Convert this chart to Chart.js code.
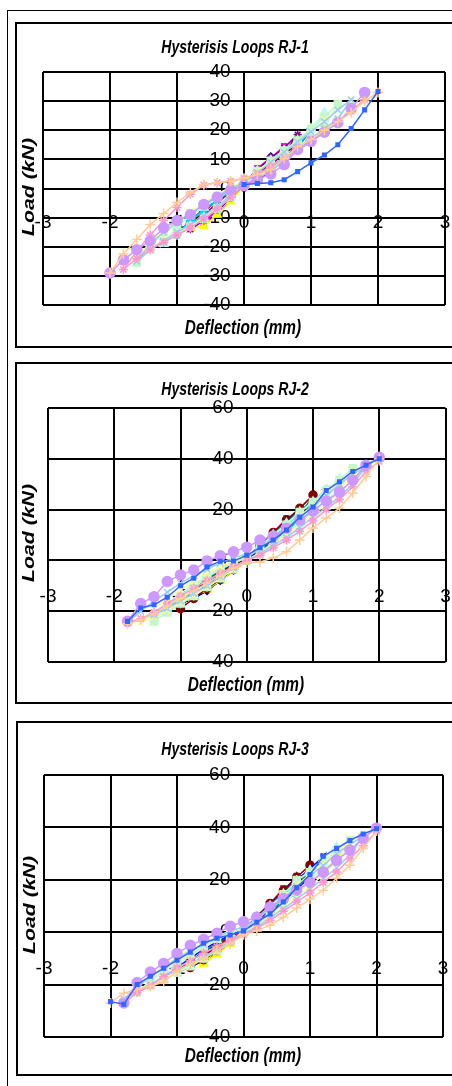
<!DOCTYPE html>
<html><head><meta charset="utf-8">
<script src="https://cdn.jsdelivr.net/npm/chart.js@4.4.1/dist/chart.umd.min.js"></script>
<style>
html,body{margin:0;padding:0;background:#fff;overflow:hidden;width:452px;height:1086px}
.box{position:absolute;box-sizing:border-box;border:2px solid #000}
canvas{position:absolute}
</style></head><body>
<div class="box" style="left:7px;top:10px;width:470px;height:1100px;border-width:1px"></div>
<div class="box" style="left:15px;top:22px;width:460px;height:326px"></div>
<div class="box" style="left:15px;top:362px;width:460px;height:342px"></div>
<div class="box" style="left:16px;top:721px;width:460px;height:355px"></div>
<canvas id="c1" width="435" height="321" style="left:17px;top:24px"></canvas>
<canvas id="c2" width="435" height="338" style="left:17px;top:364px"></canvas>
<canvas id="c3" width="434" height="351" style="left:18px;top:723px"></canvas>
<script>
// ---------- text ----------
const TITLES = ['Hysterisis Loops RJ-1', 'Hysterisis Loops RJ-2', 'Hysterisis Loops RJ-3'];
const X_TITLE = 'Deflection (mm)';
const Y_TITLE = 'Load (kN)';
// ---------- ticks ----------
const X_TICKS = [-3, -2, -1, 0, 1, 2, 3];
const Y_TICKS_RJ1 = [-40, -30, -20, -10, 0, 10, 20, 30, 40];
const Y_TICKS_RJ2 = [-40, -20, 0, 20, 40, 60];
const Y_TICKS_RJ3 = [-40, -20, 0, 20, 40, 60];

// ---------- RJ-1 series [deflection, load] ----------
const RJ1_1 = [[0,0],[0.2,5],[0.4,11],[0.2,6],[0,2],[-0.2,-3],[-0.4,-8],[-0.2,-3],[0,1]];
const RJ1_2 = [[0,1],[0.2,7],[0.4,10.5],[0.6,14.5],[0.4,9],[0.2,5],[0,2],[-0.2,-4],[-0.4,-9],[-0.6,-12.5],[-0.4,-7],[-0.2,-2],[0,1]];
const RJ1_3 = [[0,1],[0.2,6],[0.4,10],[0.6,13.5],[0.4,8],[0.2,4],[0,1],[-0.2,-4.5],[-0.4,-9],[-0.6,-13],[-0.8,-13.5],[-0.6,-9],[-0.4,-5],[-0.2,-1],[0,1]];
const RJ1_4 = [[0,1],[0.2,6],[0.4,10],[0.6,13],[0.8,17],[0.6,11],[0.4,7],[0.2,4],[0,2],[-0.2,-3],[-0.4,-7],[-0.6,-10],[-0.8,-13],[-0.6,-8],[-0.4,-4],[-0.2,-1],[0,2]];
const RJ1_5 = [[0,2],[0.2,6.5],[0.4,10.5],[0.6,14],[0.8,18.5],[0.6,12],[0.4,8],[0.2,4.5],[0,2],[-0.2,-3],[-0.4,-7],[-0.6,-11],[-0.8,-14],[-0.6,-9],[-0.4,-5],[-0.2,-1],[0,2]];
const RJ1_6 = [[0,1],[0.2,5],[0.4,9],[0.6,12],[0.8,15],[0.6,10],[0.4,6],[0.2,3],[0,1],[-0.2,-3],[-0.4,-7],[-0.6,-10],[-0.8,-12],[-0.6,-8],[-0.4,-4],[-0.2,-1],[0,1]];
const RJ1_7 = [[0,2],[0.2,6],[0.4,9.5],[0.6,13],[0.8,16.5],[1.0,20],[0.8,14],[0.6,10],[0.4,7],[0.2,4],[0,2],[-0.2,-3],[-0.4,-7],[-0.6,-10],[-0.8,-13],[-1.0,-15.5],[-0.8,-11],[-0.6,-7],[-0.4,-4],[-0.2,-1],[0,2]];
const RJ1_8 = [[0,2],[0.2,6],[0.4,9],[0.6,12.5],[0.8,16],[1.0,20.5],[0.8,14.5],[0.6,10.5],[0.4,7],[0.2,4],[0,2],[-0.2,-3],[-0.4,-6.5],[-0.6,-10],[-0.8,-13],[-1.0,-16],[-0.8,-11],[-0.6,-7.5],[-0.4,-4],[-0.2,-1],[0,2]];
const RJ1_9 = [[0,2],[0.2,6],[0.4,9.5],[0.6,13],[0.8,16.5],[1.0,20.5],[1.2,26],[1.0,18],[0.8,14],[0.6,10],[0.4,6.5],[0.2,4],[0,2],[-0.2,-3],[-0.4,-7],[-0.6,-10],[-0.8,-13],[-1.0,-15],[-1.2,-19],[-1.0,-13],[-0.8,-9.5],[-0.6,-6.5],[-0.4,-3.5],[-0.2,-0.5],[0,2]];
const RJ1_10 = [[0,2],[0.2,6],[0.4,9.5],[0.6,13],[0.8,16.5],[1.0,20.5],[1.2,24.5],[1.4,29],[1.2,21],[1.0,17],[0.8,13.5],[0.6,10],[0.4,6.5],[0.2,4],[0,2],[-0.2,-3],[-0.4,-7],[-0.6,-10.5],[-0.8,-13],[-1.0,-15.5],[-1.2,-18],[-1.4,-21],[-1.6,-25.5],[-1.4,-19.5],[-1.2,-15.5],[-1.0,-12],[-0.8,-8.5],[-0.6,-5.5],[-0.4,-2.5],[-0.2,0],[0,2]];
const RJ1_11 = [[0,2],[0.2,6],[0.4,9],[0.6,12.5],[0.8,16],[1.0,19.5],[1.2,23.5],[1.4,27],[1.6,30],[1.4,23.5],[1.2,20],[1.0,16.5],[0.8,13],[0.6,9.5],[0.4,6],[0.2,4],[0,2],[-0.2,-2.5],[-0.4,-6.5],[-0.6,-10],[-0.8,-12.5],[-1.0,-15],[-1.2,-17.5],[-1.4,-20.5],[-1.6,-24],[-1.4,-18.5],[-1.2,-14.5],[-1.0,-11],[-0.8,-8],[-0.6,-5],[-0.4,-2],[-0.2,0.5],[0,2.5]];
const RJ1_12 = [[0,2],[0.2,5.5],[0.4,9],[0.6,12.5],[0.8,16],[1.0,19.5],[1.2,23],[1.4,27],[1.6,30.5],[1.4,24],[1.2,20.5],[1.0,17],[0.8,13],[0.6,9.5],[0.4,6],[0.2,3.5],[0,1.5],[-0.2,-2.5],[-0.4,-6],[-0.6,-9.5],[-0.8,-12.5],[-1.0,-15],[-1.2,-18],[-1.4,-21],[-1.6,-25],[-1.4,-19],[-1.2,-15],[-1.0,-11.5],[-0.8,-8.5],[-0.6,-5.5],[-0.4,-2.5],[-0.2,0],[0,2]];
const RJ1_13 = [[0,1],[-0.2,-3],[-0.4,-7],[-0.6,-10.5],[-0.8,-13.5],[-1.0,-16],[-1.2,-18.5],[-1.4,-21],[-1.6,-24],[-1.8,-27.8],[-1.6,-21.5],[-1.4,-16],[-1.2,-11],[-1.0,-6.5],[-0.8,-2],[-0.6,1.2],[-0.4,2],[-0.2,2.5],[0,3.5],[0.2,5],[0.4,7.5],[0.6,10.5],[0.8,13],[1.0,16],[1.2,19.5],[1.4,23],[1.6,26.5],[1.8,30.5]];
const RJ1_14 = [[-2,-29],[-1.8,-24.5],[-1.6,-21],[-1.4,-18],[-1.2,-13.5],[-1.0,-11],[-0.8,-9],[-0.6,-5.5],[-0.4,-3],[-0.2,-0.5],[0,1],[0.2,3],[0.4,5],[0.6,8.2],[0.8,13.4],[1.0,16.2],[1.2,19.3],[1.4,22.6],[1.6,27.5],[1.8,33]];
const RJ1_15 = [[2,33],[1.8,30],[1.6,26],[1.4,23],[1.2,20],[1.0,16.8],[0.8,14.4],[0.6,10.3],[0.4,6.5],[0.2,4.8],[0,3.5],[-0.2,2.5],[-0.4,2],[-0.6,1.4],[-0.8,-1.4],[-1.0,-4.8],[-1.2,-8.6],[-1.4,-12.4],[-1.6,-17.5],[-1.8,-22.5],[-2,-29]];
const RJ1_16 = [[0,1.4],[0.2,1.7],[0.4,2],[0.6,3],[0.8,5.8],[1.0,8.8],[1.2,11.5],[1.4,15],[1.6,20.6],[1.8,27],[2,33.3]];

// ---------- RJ-2 series ----------
const RJ2_1 = [[0,0],[0.2,5],[0.4,10],[0.6,15],[0.8,20],[0.6,13],[0.4,8],[0.2,3],[0,0],[-0.2,-4],[-0.4,-8],[-0.6,-12],[-0.8,-15],[-0.6,-10],[-0.4,-6],[-0.2,-2],[0,0]];
const RJ2_2 = [[0,0],[0.2,6],[0.4,11],[0.6,16.5],[0.4,10],[0.2,4],[0,0],[-0.2,-4],[-0.4,-8],[-0.6,-11],[-0.4,-6],[-0.2,-2],[0,0]];
const RJ2_3 = [[0,0],[0.2,5],[0.4,10],[0.6,15],[0.4,9],[0.2,4],[0,0],[-0.2,-4],[-0.4,-8],[-0.6,-11.5],[-0.4,-6],[-0.2,-2],[0,0]];
const RJ2_4 = [[0,1],[0.2,5],[0.4,10],[0.6,14.5],[0.8,19.5],[0.6,13],[0.4,8],[0.2,3.5],[0,0],[-0.2,-3.5],[-0.4,-7.5],[-0.6,-11],[-0.8,-14],[-0.6,-9],[-0.4,-5],[-0.2,-1.5],[0,1]];
const RJ2_5 = [[0,1],[0.2,5.5],[0.4,10.5],[0.6,15],[0.8,20.5],[0.6,13.5],[0.4,8.5],[0.2,4],[0,0.5],[-0.2,-3.5],[-0.4,-7],[-0.6,-10.5],[-0.8,-14.5],[-0.6,-9.5],[-0.4,-5.5],[-0.2,-2],[0,1]];
const RJ2_6 = [[0,1],[0.2,6],[0.4,11],[0.6,16],[0.8,20.5],[1.0,25.7],[0.8,17],[0.6,12],[0.4,7.5],[0.2,3.5],[0,0],[-0.2,-3.5],[-0.4,-7.5],[-0.6,-11],[-0.8,-15],[-1.0,-19],[-0.8,-12],[-0.6,-8],[-0.4,-4.5],[-0.2,-1.5],[0,1]];
const RJ2_7 = [[0,1],[0.2,5.5],[0.4,10.5],[0.6,15],[0.8,19.5],[1.0,23.5],[0.8,16.5],[0.6,11.5],[0.4,7],[0.2,3.5],[0,0],[-0.2,-3.5],[-0.4,-7],[-0.6,-10.5],[-0.8,-14],[-1.0,-17.5],[-0.8,-11.5],[-0.6,-7.5],[-0.4,-4],[-0.2,-1],[0,1]];
const RJ2_8 = [[0,1],[0.2,5.5],[0.4,10],[0.6,14.5],[0.8,19],[1.0,23],[1.2,28],[1.0,20],[0.8,15.5],[0.6,11],[0.4,7],[0.2,3],[0,0],[-0.2,-3.5],[-0.4,-7],[-0.6,-10.5],[-0.8,-14],[-1.0,-17],[-1.2,-20],[-1.0,-14],[-0.8,-10],[-0.6,-6.5],[-0.4,-3.5],[-0.2,-1],[0,1]];
const RJ2_9 = [[0,1],[0.2,5.5],[0.4,10],[0.6,14.5],[0.8,19],[1.0,23],[1.2,27.5],[1.4,32],[1.2,24],[1.0,19.5],[0.8,15],[0.6,11],[0.4,7],[0.2,3],[0,0],[-0.2,-3.5],[-0.4,-7],[-0.6,-10.5],[-0.8,-14],[-1.0,-17],[-1.2,-20],[-1.4,-22.5],[-1.2,-17],[-1.0,-13],[-0.8,-9.5],[-0.6,-6],[-0.4,-3],[-0.2,-0.5],[0,1.5]];
const RJ2_10 = [[0,1],[0.2,5.5],[0.4,9.5],[0.6,14],[0.8,19],[1.0,23],[1.2,27.7],[1.4,31.6],[1.6,36.3],[1.4,28],[1.2,23.5],[1.0,19],[0.8,15],[0.6,11],[0.4,7],[0.2,3],[0,0],[-0.2,-3.5],[-0.4,-7],[-0.6,-10.5],[-0.8,-14],[-1.0,-17],[-1.2,-20.5],[-1.4,-24],[-1.2,-18],[-1.0,-14],[-0.8,-10],[-0.6,-6.5],[-0.4,-3.5],[-0.2,-1],[0,1]];
const RJ2_11 = [[0,1],[0.2,5],[0.4,9],[0.6,13],[0.8,17.5],[1.0,21.5],[1.2,26],[1.4,30.5],[1.6,35],[1.4,27],[1.2,22],[1.0,18],[0.8,14],[0.6,10],[0.4,6],[0.2,2.5],[0,0],[-0.2,-3.5],[-0.4,-7],[-0.6,-10.5],[-0.8,-13.5],[-1.0,-16.5],[-1.2,-19.5],[-1.4,-22],[-1.6,-24.5],[-1.4,-19],[-1.2,-15],[-1.0,-11.5],[-0.8,-8],[-0.6,-5],[-0.4,-2.5],[-0.2,0],[0,1.5]];
const RJ2_12 = [[0,1],[0.2,5],[0.4,9],[0.6,13],[0.8,17],[1.0,21],[1.2,25.5],[1.4,30],[1.6,34],[1.8,37],[1.6,30],[1.4,25],[1.2,21],[1.0,17],[0.8,13],[0.6,9],[0.4,6],[0.2,2.5],[0,0],[-0.2,-3],[-0.4,-6.5],[-0.6,-10],[-0.8,-13],[-1.0,-16],[-1.2,-19],[-1.4,-21.5],[-1.6,-23],[-1.8,-24.5],[-1.6,-20],[-1.4,-16],[-1.2,-12.5],[-1.0,-9],[-0.8,-6],[-0.6,-3.5],[-0.4,-1],[-0.2,1],[0,2.5]];
const RJ2_13 = [[2,39],[1.8,35],[1.6,29],[1.4,24],[1.2,20],[1.0,15.5],[0.8,11.5],[0.6,8],[0.4,5],[0.2,2],[0,0],[-0.2,-2.5],[-0.4,-5],[-0.6,-8],[-0.8,-11],[-1.0,-14],[-1.2,-17],[-1.4,-20.5],[-1.6,-23],[-1.8,-24.5]];
const RJ2_14 = [[-1.8,-24],[-1.6,-17],[-1.4,-14.3],[-1.2,-8.3],[-1.0,-5.7],[-0.8,-3.8],[-0.6,-0.2],[-0.4,1.8],[-0.2,3.4],[0,5.2],[0.2,8],[0.4,9.6],[0.6,12.7],[0.8,15.9],[1.0,19.5],[1.2,23.4],[1.4,26.9],[1.6,31.6],[1.8,37.5],[2,40.6]];
const RJ2_15 = [[2,40],[1.8,33],[1.6,26.5],[1.4,20.6],[1.2,16.7],[1.0,12.8],[0.8,8],[0.6,3.4],[0.4,1],[0.2,-0.6],[0,-1],[-0.2,-3],[-0.4,-6],[-0.6,-9],[-0.8,-12],[-1.0,-15],[-1.2,-18],[-1.4,-21],[-1.6,-23.5],[-1.8,-25]];
const RJ2_16 = [[-1.8,-24],[-1.6,-18.7],[-1.4,-17.5],[-1.2,-14.5],[-1.0,-10],[-0.8,-7],[-0.6,-2.6],[-0.4,-0.3],[-0.2,-0.2],[0,2],[0.2,5],[0.4,8],[0.6,12],[0.8,17],[1.0,21],[1.2,27.5],[1.4,31],[1.6,35],[1.8,37.5],[2,40]];

// ---------- RJ-3 series ----------
const RJ3_1 = [[0,0],[0.2,5],[0.4,10.5],[0.6,16],[0.8,21],[0.6,14],[0.4,8.5],[0.2,3.5],[0,0],[-0.2,-4],[-0.4,-7.5],[-0.6,-11],[-0.8,-13],[-0.6,-9],[-0.4,-5.5],[-0.2,-2],[0,0]];
const RJ3_2 = [[0,0],[0.2,6],[0.4,11],[0.6,16.8],[0.4,10],[0.2,4],[0,0],[-0.2,-4],[-0.4,-8],[-0.6,-11],[-0.4,-6],[-0.2,-2],[0,0]];
const RJ3_3 = [[0,0],[0.2,5],[0.4,10],[0.6,15],[0.4,9],[0.2,4],[0,0],[-0.2,-4.5],[-0.4,-8.5],[-0.6,-12],[-0.4,-6.5],[-0.2,-2.5],[0,0]];
const RJ3_4 = [[0,1],[0.2,5],[0.4,10],[0.6,15],[0.8,20],[0.6,13],[0.4,8],[0.2,3.5],[0,0],[-0.2,-3.5],[-0.4,-7],[-0.6,-10.5],[-0.8,-13],[-0.6,-8.5],[-0.4,-5],[-0.2,-1.5],[0,1]];
const RJ3_5 = [[0,1],[0.2,5.5],[0.4,10.5],[0.6,15.5],[0.8,21.5],[0.6,14],[0.4,9],[0.2,4],[0,0.5],[-0.2,-3.5],[-0.4,-7],[-0.6,-10.5],[-0.8,-13.5],[-0.6,-9],[-0.4,-5.5],[-0.2,-2],[0,1]];
const RJ3_6 = [[0,1],[0.2,6],[0.4,11],[0.6,16],[0.8,21],[1.0,25.6],[0.8,17.5],[0.6,12],[0.4,7.5],[0.2,3.5],[0,0],[-0.2,-3.5],[-0.4,-7],[-0.6,-10.5],[-0.8,-13.5],[-1.0,-15],[-0.8,-11],[-0.6,-7.5],[-0.4,-4.5],[-0.2,-1.5],[0,1]];
const RJ3_7 = [[0,1],[0.2,5.5],[0.4,10.5],[0.6,15],[0.8,20],[1.0,24],[0.8,17],[0.6,12],[0.4,7.5],[0.2,3.5],[0,0],[-0.2,-3.5],[-0.4,-7],[-0.6,-10],[-0.8,-13],[-1.0,-15.5],[-0.8,-11],[-0.6,-7.5],[-0.4,-4],[-0.2,-1],[0,1]];
const RJ3_8 = [[0,1],[0.2,5.5],[0.4,10],[0.6,15],[0.8,20],[1.0,24],[1.2,29],[1.0,21],[0.8,16.5],[0.6,11.5],[0.4,7],[0.2,3],[0,0],[-0.2,-3.5],[-0.4,-7],[-0.6,-10],[-0.8,-13],[-1.0,-15.5],[-1.2,-18],[-1.0,-13.5],[-0.8,-10],[-0.6,-6.5],[-0.4,-3.5],[-0.2,-1],[0,1]];
const RJ3_9 = [[0,1],[0.2,5.5],[0.4,10],[0.6,14.5],[0.8,19.5],[1.0,23.5],[1.2,28],[1.4,32.5],[1.2,24.5],[1.0,20],[0.8,15.5],[0.6,11],[0.4,7],[0.2,3],[0,0],[-0.2,-3.5],[-0.4,-7],[-0.6,-10],[-0.8,-13],[-1.0,-15.5],[-1.2,-18],[-1.4,-20.5],[-1.2,-16],[-1.0,-12.5],[-0.8,-9],[-0.6,-6],[-0.4,-3],[-0.2,-0.5],[0,1.5]];
const RJ3_10 = [[0,1],[0.2,5],[0.4,9.5],[0.6,14.5],[0.8,19.9],[1.0,22.9],[1.2,26.7],[1.4,31.3],[1.6,35.2],[1.4,28],[1.2,23.5],[1.0,19],[0.8,15],[0.6,11],[0.4,7],[0.2,3],[0,0],[-0.2,-3.5],[-0.4,-7],[-0.6,-10],[-0.8,-13],[-1.0,-15.5],[-1.2,-18],[-1.4,-20.5],[-1.6,-23],[-1.4,-18.5],[-1.2,-15],[-1.0,-11.5],[-0.8,-8.5],[-0.6,-5.5],[-0.4,-2.5],[-0.2,0],[0,1.5]];
const RJ3_11 = [[0,1],[0.2,5],[0.4,9],[0.6,13.5],[0.8,18],[1.0,22],[1.2,26],[1.4,30.5],[1.6,34.5],[1.4,27],[1.2,22],[1.0,17.5],[0.8,13.5],[0.6,9.5],[0.4,6],[0.2,2.5],[0,-0.5],[-0.2,-4],[-0.4,-7],[-0.6,-10],[-0.8,-12.5],[-1.0,-15],[-1.2,-17.5],[-1.4,-20.5],[-1.6,-23],[-1.8,-26],[-1.6,-20.5],[-1.4,-16.5],[-1.2,-13],[-1.0,-9.5],[-0.8,-6.5],[-0.6,-4],[-0.4,-1.5],[-0.2,0.5],[0,2]];
const RJ3_12 = [[0,1],[0.2,5],[0.4,9],[0.6,13],[0.8,17.5],[1.0,21.5],[1.2,25.5],[1.4,30],[1.6,33.5],[1.8,36.5],[1.6,29.5],[1.4,24.5],[1.2,20.5],[1.0,16.5],[0.8,12.5],[0.6,9],[0.4,5.5],[0.2,2],[0,-0.5],[-0.2,-4],[-0.4,-6.5],[-0.6,-9.5],[-0.8,-12],[-1.0,-14.5],[-1.2,-17],[-1.4,-20],[-1.6,-22.5],[-1.8,-25.5],[-1.6,-21],[-1.4,-17],[-1.2,-13.5],[-1.0,-10],[-0.8,-7],[-0.6,-4.5],[-0.4,-2],[-0.2,0.5],[0,2]];
const RJ3_13 = [[-1.8,-27],[-1.6,-23],[-1.4,-20.5],[-1.2,-17],[-1.0,-13.5],[-0.8,-11],[-0.6,-8],[-0.4,-5.5],[-0.2,-3],[0,-1],[0.2,1.5],[0.4,4.5],[0.6,8],[0.8,11.5],[1.0,15],[1.2,19],[1.4,23],[1.6,28],[1.8,33],[2,38.5]];
const RJ3_14 = [[-1.8,-27],[-1.6,-19.2],[-1.4,-15.2],[-1.2,-11.9],[-1.0,-8.1],[-0.8,-5],[-0.6,-2.7],[-0.4,-0.4],[-0.2,2.3],[0,4],[0.2,5.7],[0.4,9.6],[0.6,12.9],[0.8,16],[1.0,19.1],[1.2,22.9],[1.4,27.5],[1.6,31.3],[1.8,35.9],[2,39.7]];
const RJ3_15 = [[2,38.6],[1.8,32],[1.6,25.6],[1.4,20.6],[1.2,16],[1.0,12.6],[0.8,9.2],[0.6,5.7],[0.4,2.7],[0.2,0.5],[0,-1],[-0.2,-4.5],[-0.4,-7],[-0.6,-10],[-0.8,-12],[-1.0,-15],[-1.2,-19],[-1.4,-20.6],[-1.6,-21.8],[-1.8,-23.3],[-2,-27]];
const RJ3_16 = [[-2,-26.5],[-1.8,-27.5],[-1.6,-20],[-1.4,-16.8],[-1.2,-13.8],[-1.0,-10.7],[-0.8,-7.6],[-0.6,-4.2],[-0.4,-2.3],[-0.2,-1.1],[0,0.5],[0.2,3.8],[0.4,7],[0.6,11.5],[0.8,17],[1.0,22],[1.2,29],[1.4,32],[1.6,35],[1.8,37.5],[2,39.5]];

const RJ1_SERIES = [RJ1_1,RJ1_2,RJ1_3,RJ1_4,RJ1_5,RJ1_6,RJ1_7,RJ1_8,RJ1_9,RJ1_10,RJ1_11,RJ1_12,RJ1_13,RJ1_14,RJ1_15,RJ1_16];
const RJ2_SERIES = [RJ2_1,RJ2_2,RJ2_3,RJ2_4,RJ2_5,RJ2_6,RJ2_7,RJ2_8,RJ2_9,RJ2_10,RJ2_11,RJ2_12,RJ2_13,RJ2_14,RJ2_15,RJ2_16];
const RJ3_SERIES = [RJ3_1,RJ3_2,RJ3_3,RJ3_4,RJ3_5,RJ3_6,RJ3_7,RJ3_8,RJ3_9,RJ3_10,RJ3_11,RJ3_12,RJ3_13,RJ3_14,RJ3_15,RJ3_16];

// ---------- styles (Excel default series look) ----------
const STYLES = [
  {c:'#000080', p:'rectRot', r:3.5},
  {c:'#FF00FF', p:'rect', r:3.5},
  {c:'#FFFF00', p:'triangle', r:4.5},
  {c:'#00FFFF', p:'crossRot', r:4},
  {c:'#800080', p:'star', r:4},
  {c:'#800000', p:'circle', r:4},
  {c:'#008080', p:'cross', r:4},
  {c:'#0000FF', p:'rect', r:3},
  {c:'#00CCFF', p:'rectRot', r:4},
  {c:'#BFF7F7', p:'triangle', r:5},
  {c:'#C6F7C6', p:'rect', r:5},
  {c:'#FFFF99', p:'crossRot', r:4.5},
  {c:'#99CCFF', p:'crossRot', r:4.5},
  {c:'#FF99CC', p:'star', r:4.5},
  {c:'#CC99FF', p:'circle', r:5},
  {c:'#FFCC99', p:'cross', r:5},
  {c:'#3366FF', p:'rect', r:2.5}
];
const STYLE_IDX_RJ1 = [0,1,2,3,4,5,6,8,9,10,11,12,13,14,15,16];
const STYLE_IDX_RJ2 = [0,1,2,3,4,5,6,8,9,10,11,12,13,14,15,16];
const STYLE_IDX_RJ3 = [0,1,2,3,4,5,6,7,9,10,11,12,13,14,15,16];

const SANS = "'Liberation Sans',Arial,sans-serif";

const panelText = {
  id: 'panelText',
  afterDraw(chart, args, o) {
    const ctx = chart.ctx;
    ctx.fillStyle = '#000';
    ctx.textAlign = 'center';
    ctx.textBaseline = 'middle';
    ctx.save();
    ctx.translate(o.tx, o.ty); ctx.scale(0.78, 1);
    ctx.font = 'italic bold 18px ' + SANS;
    ctx.fillText(o.title, 0, 0);
    ctx.restore();
    ctx.save();
    ctx.translate(o.dx, o.dy); ctx.scale(0.77, 1);
    ctx.font = 'italic bold 20px ' + SANS;
    ctx.fillText(X_TITLE, 0, 0);
    ctx.restore();
    ctx.save();
    ctx.translate(o.lx, o.ly);
    ctx.rotate(-Math.PI / 2);
    ctx.scale(1.25, 1);
    ctx.font = 'italic bold 17px ' + SANS;
    ctx.fillText(Y_TITLE, 0, 0);
    ctx.restore();
  }
};

function makeChart(id, series, styleIdx, yTicks, pad, xPad, txt) {
  const datasets = series.map((d, i) => {
    const s = STYLES[styleIdx[i]];
    return {
      data: d, showLine: true, borderColor: s.c, backgroundColor: s.c,
      borderWidth: 1.5, pointStyle: s.p, pointRadius: s.r,
      pointBorderColor: s.c, pointBackgroundColor: s.c, pointBorderWidth: 1.5,
      tension: 0, order: series.length - i
    };
  });
  const step = yTicks[1] - yTicks[0];
  new Chart(document.getElementById(id), {
    type: 'scatter',
    data: { datasets },
    options: {
      responsive: false, animation: false, events: [],
      layout: { padding: pad },
      plugins: { legend: { display: false }, tooltip: { enabled: false }, title: { display: false }, panelText: txt },
      scales: {
        x: {
          type: 'linear', min: X_TICKS[0], max: X_TICKS[X_TICKS.length - 1],
          position: { y: 0 },
          afterFit(s) { s.height = 0; s.paddingLeft = 0; s.paddingRight = 0; },
          ticks: { stepSize: X_TICKS[1] - X_TICKS[0], padding: xPad, color: '#000', maxRotation: 0, autoSkip: false,
                   font: { family: SANS, size: 19 } },
          grid: { color: '#000', lineWidth: 2, drawTicks: false },
          border: { display: false }
        },
        y: {
          type: 'linear', min: yTicks[0], max: yTicks[yTicks.length - 1],
          position: { x: -0.2 },
          afterFit(s) { s.width = 0; s.paddingTop = 0; s.paddingBottom = 0; },
          ticks: { stepSize: step, padding: 0, color: '#000', autoSkip: false,
                   font: { family: SANS, size: 19 } },
          grid: { color: '#000', lineWidth: 2, drawTicks: false },
          border: { display: false }
        }
      }
    },
    plugins: [panelText]
  });
}

makeChart('c1', RJ1_SERIES, STYLE_IDX_RJ1, Y_TICKS_RJ1,
  { left: 26, right: 7, top: 48, bottom: 40 }, 23,
  { title: TITLES[0], tx: 218, ty: 24, dx: 226, dy: 304, lx: 12, ly: 163 });
makeChart('c2', RJ2_SERIES, STYLE_IDX_RJ2, Y_TICKS_RJ2,
  { left: 31, right: 5, top: 44, bottom: 40 }, 25,
  { title: TITLES[1], tx: 218, ty: 26, dx: 229, dy: 321, lx: 12, ly: 169 });
makeChart('c3', RJ3_SERIES, STYLE_IDX_RJ3, Y_TICKS_RJ3,
  { left: 26, right: 9, top: 52, bottom: 37 }, 25,
  { title: TITLES[2], tx: 217, ty: 27, dx: 225, dy: 333, lx: 12, ly: 182 });
</script>
</body></html>
